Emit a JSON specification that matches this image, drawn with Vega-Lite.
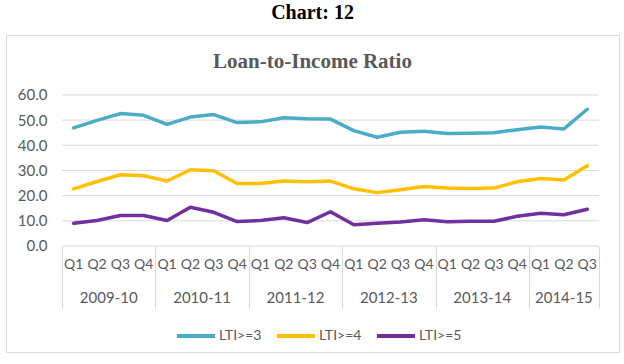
{
  "$schema": "https://vega.github.io/schema/vega-lite/v6.json",
  "width": 613,
  "height": 317,
  "autosize": {"type": "none"},
  "padding": {"left": 6, "top": 35, "right": 5, "bottom": 12},
  "background": "white",
  "title": {
    "text": "Chart: 12",
    "subtitle": "Loan-to-Income Ratio",
    "font": "Liberation Serif",
    "fontSize": 20,
    "fontWeight": "bold",
    "color": "#000000",
    "subtitleFont": "Liberation Serif",
    "subtitleFontSize": 21,
    "subtitleFontWeight": "bold",
    "subtitleColor": "#595959",
    "subtitlePadding": 28,
    "anchor": "middle",
    "offset": -37
  },
  "config": {
    "view": {"stroke": "#d9d9d9", "strokeWidth": 1}
  },
  "datasets": {
    "lti": [
      {"year": "2009-10", "q": "Q1", "t": 0, "LTI>=3": 46.9, "LTI>=4": 22.7, "LTI>=5": 9.0},
      {"year": "2009-10", "q": "Q2", "t": 1, "LTI>=3": 49.9, "LTI>=4": 25.6, "LTI>=5": 10.1},
      {"year": "2009-10", "q": "Q3", "t": 2, "LTI>=3": 52.6, "LTI>=4": 28.3, "LTI>=5": 12.1},
      {"year": "2009-10", "q": "Q4", "t": 3, "LTI>=3": 51.9, "LTI>=4": 27.9, "LTI>=5": 12.1},
      {"year": "2010-11", "q": "Q1", "t": 4, "LTI>=3": 48.3, "LTI>=4": 25.8, "LTI>=5": 10.1},
      {"year": "2010-11", "q": "Q2", "t": 5, "LTI>=3": 51.2, "LTI>=4": 30.3, "LTI>=5": 15.4},
      {"year": "2010-11", "q": "Q3", "t": 6, "LTI>=3": 52.2, "LTI>=4": 29.9, "LTI>=5": 13.4},
      {"year": "2010-11", "q": "Q4", "t": 7, "LTI>=3": 49.0, "LTI>=4": 24.8, "LTI>=5": 9.7},
      {"year": "2011-12", "q": "Q1", "t": 8, "LTI>=3": 49.3, "LTI>=4": 24.8, "LTI>=5": 10.1},
      {"year": "2011-12", "q": "Q2", "t": 9, "LTI>=3": 50.9, "LTI>=4": 25.8, "LTI>=5": 11.2},
      {"year": "2011-12", "q": "Q3", "t": 10, "LTI>=3": 50.5, "LTI>=4": 25.5, "LTI>=5": 9.3},
      {"year": "2011-12", "q": "Q4", "t": 11, "LTI>=3": 50.4, "LTI>=4": 25.8, "LTI>=5": 13.6},
      {"year": "2012-13", "q": "Q1", "t": 12, "LTI>=3": 45.8, "LTI>=4": 22.7, "LTI>=5": 8.4},
      {"year": "2012-13", "q": "Q2", "t": 13, "LTI>=3": 43.2, "LTI>=4": 21.2, "LTI>=5": 9.0},
      {"year": "2012-13", "q": "Q3", "t": 14, "LTI>=3": 45.2, "LTI>=4": 22.3, "LTI>=5": 9.5},
      {"year": "2012-13", "q": "Q4", "t": 15, "LTI>=3": 45.6, "LTI>=4": 23.6, "LTI>=5": 10.4},
      {"year": "2013-14", "q": "Q1", "t": 16, "LTI>=3": 44.7, "LTI>=4": 23.0, "LTI>=5": 9.6},
      {"year": "2013-14", "q": "Q2", "t": 17, "LTI>=3": 44.8, "LTI>=4": 22.8, "LTI>=5": 9.8},
      {"year": "2013-14", "q": "Q3", "t": 18, "LTI>=3": 45.0, "LTI>=4": 23.0, "LTI>=5": 9.8},
      {"year": "2013-14", "q": "Q4", "t": 19, "LTI>=3": 46.2, "LTI>=4": 25.5, "LTI>=5": 11.8},
      {"year": "2014-15", "q": "Q1", "t": 20, "LTI>=3": 47.3, "LTI>=4": 26.8, "LTI>=5": 13.0},
      {"year": "2014-15", "q": "Q2", "t": 21, "LTI>=3": 46.5, "LTI>=4": 26.2, "LTI>=5": 12.4},
      {"year": "2014-15", "q": "Q3", "t": 22, "LTI>=3": 54.3, "LTI>=4": 31.9, "LTI>=5": 14.6}
    ],
    "grid": [{"v": 0}, {"v": 10}, {"v": 20}, {"v": 30}, {"v": 40}, {"v": 50}, {"v": 60}]
  },
  "layer": [
    {
      "data": {"name": "grid"},
      "mark": {"type": "rule", "color": "#d9d9d9", "strokeWidth": 1},
      "encoding": {
        "y": {"field": "v", "type": "quantitative", "scale": {"domain": [-42.1, 83.8], "nice": false, "zero": false}},
        "x": {"datum": -0.5, "type": "quantitative", "scale": {"domain": [-2.9, 23.36], "nice": false, "zero": false}},
        "x2": {"datum": 22.5}
      }
    },
    {
      "data": {"name": "lti"},
      "transform": [{"fold": ["LTI>=3", "LTI>=4", "LTI>=5"], "as": ["series", "value"]}],
      "mark": {"type": "line", "strokeWidth": 3.5, "strokeJoin": "round", "strokeCap": "round"},
      "encoding": {
        "x": {
          "field": "t", "type": "quantitative",
          "scale": {"domain": [-2.9, 23.36], "nice": false, "zero": false},
          "axis": {
            "orient": "bottom", "offset": -106, "title": null,
            "values": [-0.5, 3.5, 7.5, 11.5, 15.5, 19.5, 22.5],
            "labels": false, "domain": false, "grid": false,
            "ticks": true, "tickSize": 62, "tickColor": "#d9d9d9", "tickWidth": 1
          }
        },
        "y": {
          "field": "value", "type": "quantitative",
          "scale": {"domain": [-42.1, 83.8], "nice": false, "zero": false},
          "axis": {
            "orient": "left", "offset": -56, "title": null,
            "values": [0, 10, 20, 30, 40, 50, 60], "format": ".1f",
            "domain": false, "ticks": false, "grid": false,
            "labelFont": "Lato", "labelFontSize": 15, "labelColor": "#595959", "labelPadding": 15
          }
        },
        "color": {
          "field": "series", "type": "nominal",
          "scale": {"domain": ["LTI>=3", "LTI>=4", "LTI>=5"], "range": ["#4BACC6", "#FFC000", "#7030A0"]},
          "legend": {
            "orient": "none", "legendX": 169, "legendY": 280, "direction": "horizontal",
            "title": null, "symbolType": "stroke", "symbolSize": 1444, "symbolStrokeWidth": 4,
            "labelFont": "Lato", "labelFontSize": 14, "labelColor": "#595959",
            "labelOffset": 2, "columnPadding": 7
          }
        }
      }
    },
    {
      "data": {"name": "lti"},
      "mark": {"type": "text", "font": "Lato", "fontSize": 14, "color": "#595959", "baseline": "middle", "align": "center"},
      "encoding": {
        "x": {"field": "t", "type": "quantitative", "scale": {"domain": [-2.9, 23.36], "nice": false, "zero": false}},
        "y": {"datum": -7.5, "type": "quantitative", "scale": {"domain": [-42.1, 83.8], "nice": false, "zero": false}},
        "text": {"field": "q"}
      }
    },
    {
      "data": {"name": "lti"},
      "transform": [{"aggregate": [{"op": "mean", "field": "t", "as": "mid"}], "groupby": ["year"]}],
      "mark": {"type": "text", "font": "Lato", "fontSize": 15, "color": "#595959", "baseline": "middle", "align": "center"},
      "encoding": {
        "x": {"field": "mid", "type": "quantitative", "scale": {"domain": [-2.9, 23.36], "nice": false, "zero": false}},
        "y": {"datum": -20.5, "type": "quantitative", "scale": {"domain": [-42.1, 83.8], "nice": false, "zero": false}},
        "text": {"field": "year"}
      }
    }
  ]
}
